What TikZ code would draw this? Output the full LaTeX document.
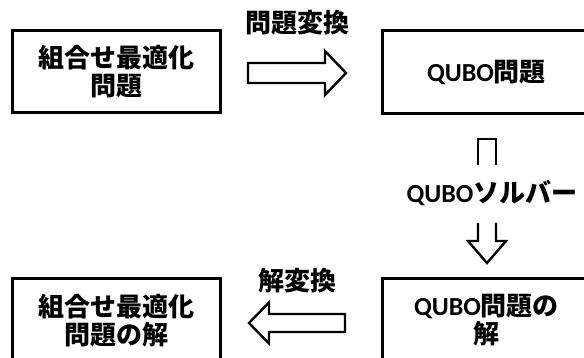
\documentclass[tikz,border=0pt]{standalone}
\usepackage{fontspec}
\setmainfont{Carlito}
\newfontfamily\cjk{Noto Sans CJK JP}
\begin{document}
\begin{tikzpicture}[x=1pt,y=-1pt,
  box/.style={draw=black, line width=3pt, fill=white, minimum width=208pt, inner sep=0pt, align=center,
    font=\fontsize{26}{28}\selectfont\bfseries},
  lbl/.style={inner sep=0pt, align=center, font=\fontsize{26}{28}\selectfont\bfseries},
  blk/.style={draw=black, line width=2.4pt, line join=miter, fill=white}]
\useasboundingbox (0,0) rectangle (584,358);
% boxes
\node[box, minimum height=82pt] (b1) at (116,72) {{\cjk 組合せ最適化}\\{\cjk 問題}};
\node[box, minimum height=83pt] (b2) at (486.5,72.5) {QUBO{\cjk 問題}};
\node[box, minimum height=83pt] (b3) at (116,320.5) {{\cjk 組合せ最適化}\\{\cjk 問題の解}};
\node[box, minimum height=83pt] (b4) at (486.5,320.5) {QUBO{\cjk 問題の}\\{\cjk 解}};
% labels
\node[lbl] (l1) at (297,23) {\cjk 問題変換};
\node[lbl] (l2) at (297.5,281) {\cjk 解変換};
\node[lbl] (l3) at (492,193) {QUBO{\cjk ソルバー}};
% right block arrow
\coordinate (a1) at (248,73);
\draw[blk] (a1) ++(0,-10) -- ++(77,0) -- ++(0,-12) -- ++(21,22) -- ++(-21,22) -- ++(0,-12) -- ++(-77,0) -- cycle;
% left block arrow
\coordinate (a2) at (249,323.5);
\draw[blk] (a2) ++(20,-9.5) -- ++(76,0) -- ++(0,18) -- ++(-76,0) -- ++(0,11.5) -- ++(-20,-20.5) -- ++(20,-20.5) -- cycle;
% vertical block arrow, split by label
\coordinate (v1) at (487,139);
\draw[blk, fill=none] (v1) ++(-9,26) -- ++(0,-26) -- ++(18,0) -- ++(0,26);
\coordinate (v2) at (487,263);
\draw[blk, fill=none] (v2) ++(-9,-40) -- ++(0,18) -- ++(-10,0) -- (v2) -- ++(19,-22) -- ++(-10,0) -- ++(0,-18);
\end{tikzpicture}
\end{document}
